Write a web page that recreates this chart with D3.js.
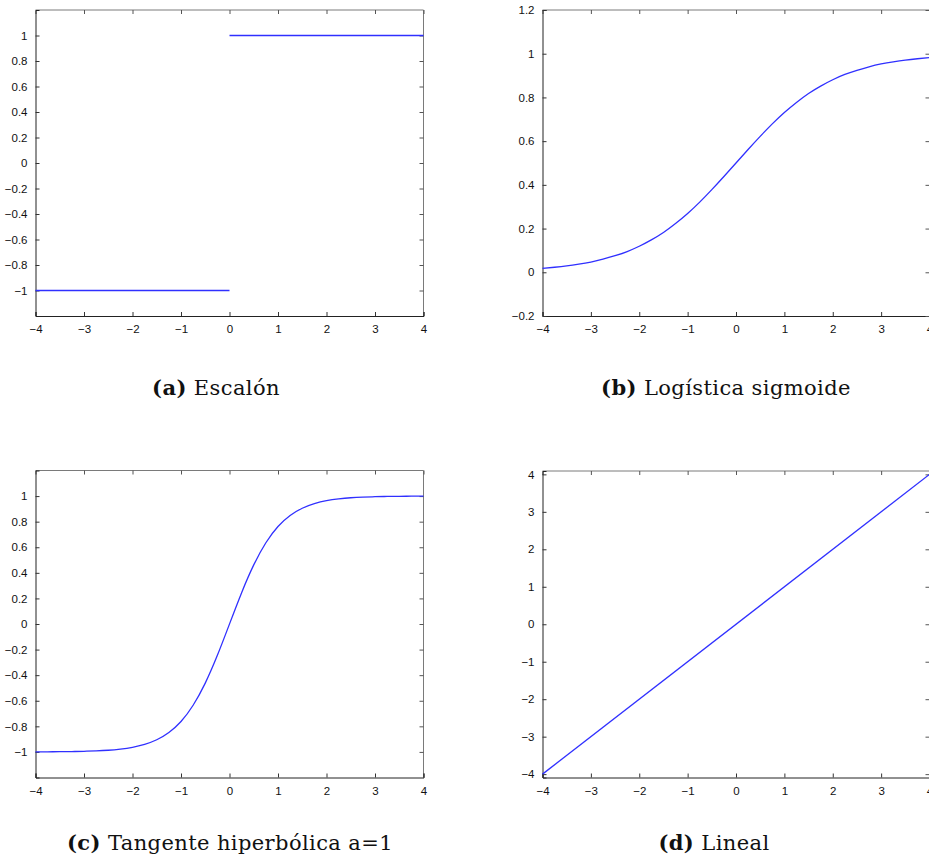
<!DOCTYPE html>
<html>
<head>
<meta charset="utf-8">
<script src="https://cdn.jsdelivr.net/npm/d3@7"></script>
<style>
  html, body { margin: 0; padding: 0; background: #fff; }
  svg { display: block; }
</style>
</head>
<body>
<svg id="chart" width="929" height="862"></svg>
<script>
// ---------------- data ----------------
const xTicks = [-4, -3, -2, -1, 0, 1, 2, 3, 4];
const yTicksUnit = [-1, -0.8, -0.6, -0.4, -0.2, 0, 0.2, 0.4, 0.6, 0.8, 1];
const yTicksSigmoid = [-0.2, 0, 0.2, 0.4, 0.6, 0.8, 1, 1.2];
const yTicksLinear = [-4, -3, -2, -1, 0, 1, 2, 3, 4];

// (a) step: two separate pieces (null breaks the line)
const stepX = [-4, 0, null, 0, 4];
const stepY = [-1, -1, null, 1, 1];

// (b) logistic sigmoid
const sigX = [-4, -3.75, -3.5, -3.25, -3, -2.75, -2.5, -2.25, -2, -1.75, -1.5, -1.25, -1, -0.75, -0.5, -0.25, 0,
              0.25, 0.5, 0.75, 1, 1.25, 1.5, 1.75, 2, 2.25, 2.5, 2.75, 3, 3.25, 3.5, 3.75, 4];
const sigY = [0.018, 0.023, 0.029, 0.037, 0.047, 0.060, 0.076, 0.095, 0.119, 0.148, 0.182, 0.223, 0.269, 0.321, 0.378, 0.438, 0.500,
              0.562, 0.622, 0.679, 0.731, 0.777, 0.818, 0.852, 0.881, 0.905, 0.924, 0.940, 0.953, 0.963, 0.971, 0.977, 0.982];

// (c) hyperbolic tangent a=1
const tanhX = [-4, -3.75, -3.5, -3.25, -3, -2.75, -2.5, -2.25, -2, -1.75, -1.5, -1.25, -1, -0.75, -0.5, -0.25, 0,
               0.25, 0.5, 0.75, 1, 1.25, 1.5, 1.75, 2, 2.25, 2.5, 2.75, 3, 3.25, 3.5, 3.75, 4];
const tanhY = [-0.999, -0.999, -0.998, -0.997, -0.995, -0.992, -0.987, -0.978, -0.964, -0.941, -0.905, -0.848, -0.762, -0.635, -0.462, -0.245, 0,
               0.245, 0.462, 0.635, 0.762, 0.848, 0.905, 0.941, 0.964, 0.978, 0.987, 0.992, 0.995, 0.997, 0.998, 0.999, 0.999];

// (d) linear
const linX = [-4, 4];
const linY = [-4, 4];

const captions = [
  { tag: "(a)", text: "Escalón" },
  { tag: "(b)", text: "Logística sigmoide" },
  { tag: "(c)", text: "Tangente hiperbólica a=1" },
  { tag: "(d)", text: "Lineal" }
];

// ---------------- layout ----------------
const panels = [
  { xs: xTicks, ys: yTicksUnit, ydom: [-1.2, 1.2], left: 35.5, right: 423.5, top: 10, bottom: 316,
    X: stepX, Y: stepY, cap: captions[0], capX: 216, capY: 395 },
  { xs: xTicks, ys: yTicksSigmoid, ydom: [-0.2, 1.2], left: 542.5, right: 929.5, top: 10, bottom: 316,
    X: sigX, Y: sigY, cap: captions[1], capX: 726, capY: 395 },
  { xs: xTicks, ys: yTicksUnit, ydom: [-1.2, 1.2], left: 35.5, right: 423.5, top: 470.5, bottom: 777.5,
    X: tanhX, Y: tanhY, cap: captions[2], capX: 230, capY: 850 },
  { xs: xTicks, ys: yTicksLinear, ydom: [-4.09, 4.09], left: 542.5, right: 929.5, top: 471, bottom: 777.5,
    X: linX, Y: linY, cap: captions[3], capX: 714, capY: 850 }
];

const svg = d3.select("#chart");
const fmt = v => {
  const s = String(Math.round(v * 10) / 10);
  return s.replace("-", "\u2212");
};

panels.forEach(p => {
  const x = d3.scaleLinear().domain([-4, 4]).range([p.left, p.right]);
  const y = d3.scaleLinear().domain(p.ydom).range([p.bottom, p.top]);
  const g = svg.append("g");
  const tickLen = 4;

  // box frame
  g.append("line").attr("x1", p.left).attr("x2", p.right).attr("y1", p.top).attr("y2", p.top)
    .attr("stroke", "#7a7a7a").attr("stroke-width", 1);
  g.append("line").attr("x1", p.right).attr("x2", p.right).attr("y1", p.top).attr("y2", p.bottom)
    .attr("stroke", "#7a7a7a").attr("stroke-width", 1);

  const xb = d3.axisBottom(x).tickValues(p.xs).tickSize(-tickLen).tickPadding(9).tickFormat(fmt);
  const gx = g.append("g").attr("transform", `translate(0,${p.bottom})`).call(xb);
  const xt = d3.axisTop(x).tickValues(p.xs).tickSize(-tickLen).tickFormat("");
  const gxt = g.append("g").attr("transform", `translate(0,${p.top})`).call(xt);
  const yl = d3.axisLeft(y).tickValues(p.ys).tickSize(-tickLen).tickPadding(8).tickFormat(fmt);
  const gy = g.append("g").attr("transform", `translate(${p.left},0)`).call(yl);
  const yr = d3.axisRight(y).tickValues(p.ys).tickSize(-tickLen).tickFormat("");
  const gyr = g.append("g").attr("transform", `translate(${p.right},0)`).call(yr);

  [gx, gy].forEach(a => {
    a.select(".domain").attr("stroke", "#222").attr("stroke-width", 1);
    a.selectAll(".tick line").attr("stroke", "#333");
    a.selectAll(".tick text").attr("fill", "#111")
      .style("font-family", "'Liberation Sans', Arial, sans-serif").style("font-size", "11.5px");
  });
  [gxt, gyr].forEach(a => {
    a.select(".domain").remove();
    a.selectAll(".tick line").attr("stroke", "#555");
  });

  // data line(s): split at null breaks into separate paths
  const segments = [[]];
  p.X.forEach((v, i) => {
    if (v === null || p.Y[i] === null) segments.push([]);
    else segments[segments.length - 1].push([v, p.Y[i]]);
  });
  const line = d3.line().x(d => x(d[0])).y(d => y(d[1])).curve(d3.curveNatural);
  g.selectAll("path.series").data(segments.filter(s => s.length > 1)).enter()
    .append("path").attr("class", "series").attr("d", line)
    .attr("fill", "none").attr("stroke", "#3030ff").attr("stroke-width", 1.3);

  // caption
  const t = svg.append("text").attr("x", p.capX).attr("y", p.capY).attr("text-anchor", "middle")
    .style("font-family", "'DejaVu Serif', 'Liberation Serif', serif").style("font-size", "21px")
    .style("letter-spacing", "0.4px").attr("fill", "#111");
  t.append("tspan").style("font-weight", "bold").text(p.cap.tag);
  t.append("tspan").text("\u00a0" + p.cap.text);
});
</script>
</body>
</html>
